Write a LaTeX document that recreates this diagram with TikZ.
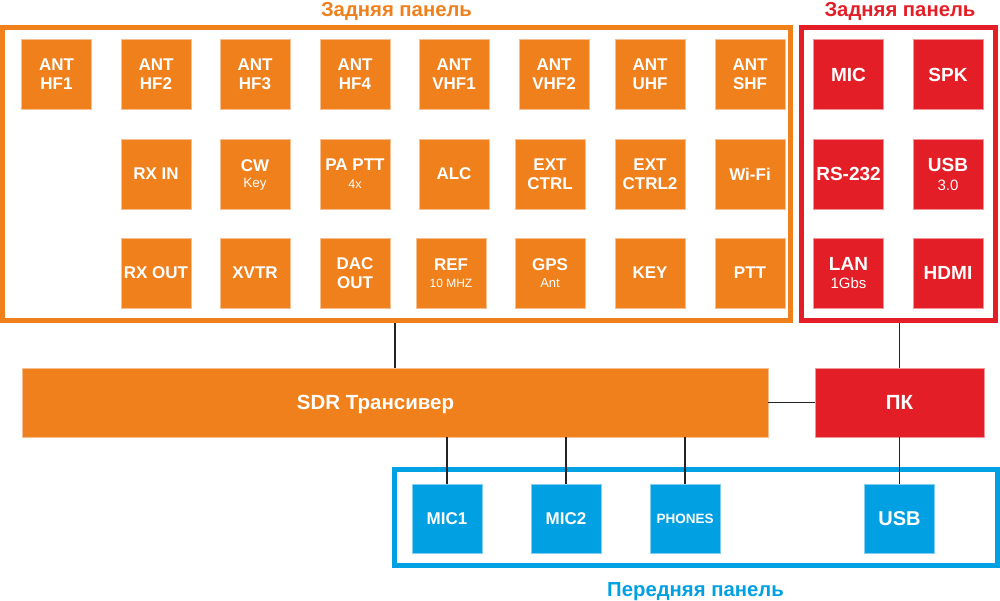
\documentclass[tikz,border=0pt]{standalone}
\usepackage{fontspec}
\setmainfont{Liberation Sans}
\definecolor{orng}{RGB}{239,128,27}
\definecolor{orngl}{RGB}{247,190,145}
\definecolor{rd}{RGB}{227,30,38}
\definecolor{rdl}{RGB}{240,150,150}
\definecolor{bl}{RGB}{0,160,226}
\definecolor{bll}{RGB}{130,205,240}
\definecolor{ln}{RGB}{35,35,35}
\newcommand{\subt}[2]{{\mdseries\fontsize{#1}{#1}\selectfont #2}}
\begin{document}
\begin{tikzpicture}[x=1pt,y=-1pt,
  port/.style={minimum width=70pt,minimum height=70pt,inner sep=0pt,line width=0.8pt,text=white,align=center,text depth=0pt},
  op/.style={port,fill=orng,draw=orngl,font=\bfseries\fontsize{17}{19}\selectfont},
  rp/.style={port,fill=rd,draw=rdl,font=\bfseries\fontsize{19}{19}\selectfont},
  bp/.style={port,fill=bl,draw=bll,minimum height=69pt,font=\bfseries\fontsize{17}{19}\selectfont},
  big/.style={line width=0.8pt,minimum height=69pt,inner sep=0pt,text=white,text depth=0pt,font=\bfseries\fontsize{20.5}{20}\selectfont},
  panel/.style={line width=5pt,inner sep=0pt},
  ttl/.style={anchor=base,inner sep=0pt,font=\bfseries\fontsize{20.3}{21}\selectfont},
  conn/.style={draw=ln,line width=1.3pt}]
\useasboundingbox (0,0) rectangle (1000,600);
% panels
\node[panel,draw=orng,minimum width=788pt,minimum height=293.3pt] (ofr) at (396.5,174.2) {};
\node[panel,draw=rd,minimum width=194.3pt,minimum height=293.5pt] (rfr) at (898.7,174.2) {};
\node[panel,draw=bl,minimum width=602.5pt,minimum height=96.3pt] (bfr) at (696.2,517.4) {};
% titles
\node[ttl,text=orng] (t1) at (396.5,16.5) {Задняя панель};
\node[ttl,text=rd] (t2) at (900,16.5) {Задняя панель};
\node[ttl,text=bl] (t3) at (695.5,596) {Передняя панель};
% orange row 1
\node[op] (a1) at (56.5,74.5) {ANT\\HF1};
\node[op] (a2) at (156,74.5) {ANT\\HF2};
\node[op] (a3) at (255,74.5) {ANT\\HF3};
\node[op] (a4) at (355,74.5) {ANT\\HF4};
\node[op] (a5) at (454,74.5) {ANT\\VHF1};
\node[op] (a6) at (554,74.5) {ANT\\VHF2};
\node[op] (a7) at (650,74.5) {ANT\\UHF};
\node[op] (a8) at (750,74.5) {ANT\\SHF};
% orange row 2
\node[op] (b1) at (156,174) {RX IN};
\node[op] (b2) at (255,174) {CW\\[-3pt]\subt{13.5}{Key}};
\node[op] (b3) at (355,174) {PA PTT\\[-1pt]\subt{12.5}{4x}};
\node[op] (b4) at (454,174) {ALC};
\node[op] (b5) at (550,174) {EXT\\CTRL};
\node[op] (b6) at (650,174) {EXT\\CTRL2};
\node[op] (b7) at (750,174) {Wi-Fi};
% orange row 3
\node[op] (c1) at (156,273) {RX OUT};
\node[op] (c2) at (255,273) {XVTR};
\node[op] (c3) at (355,273) {DAC\\OUT};
\node[op] (c4) at (451,273) {REF\\[-2pt]\subt{12}{10 MHZ}};
\node[op] (c5) at (550,273) {GPS\\[-2pt]\subt{13}{Ant}};
\node[op] (c6) at (650,273) {KEY};
\node[op] (c7) at (750,273) {PTT};
% red ports
\node[rp] (r1) at (848.5,74.5) {MIC};
\node[rp] (r2) at (948,74.5) {SPK};
\node[rp] (r3) at (848.5,174) {RS-232};
\node[rp] (r4) at (948,174) {USB\\\subt{15}{3.0}};
\node[rp] (r5) at (848.5,273) {LAN\\[-1pt]\subt{15}{1Gbs}};
\node[rp] (r6) at (948,273) {HDMI};
% main blocks
\node[big,fill=orng,draw=orngl,minimum width=746pt] (sdr) at (395,402.5) {SDR Трансивер\hspace*{39pt}};
\node[big,fill=rd,draw=rdl,minimum width=169pt] (pk) at (899.5,402.5) {ПК};
% blue ports
\node[bp] (m1) at (447,518.5) {MIC1};
\node[bp] (m2) at (566,518.5) {MIC2};
\node[bp,font=\bfseries\fontsize{13.5}{14}\selectfont] (ph) at (685,518.5) {PHONES};
\node[bp,font=\bfseries\fontsize{20}{20}\selectfont] (us) at (899.5,518.5) {USB};
% connectors
\draw[conn] (sdr.north) -- (sdr.north |- ofr.south);
\draw[conn] (pk.north) -- (pk.north |- rfr.south);
\draw[conn] (sdr.east) -- (pk.west);
\draw[conn] (m1.north) -- (m1.north |- sdr.south);
\draw[conn] (m2.north) -- (m2.north |- sdr.south);
\draw[conn] (ph.north) -- (ph.north |- sdr.south);
\draw[conn] (us.north) -- (pk.south);
\end{tikzpicture}
\end{document}
